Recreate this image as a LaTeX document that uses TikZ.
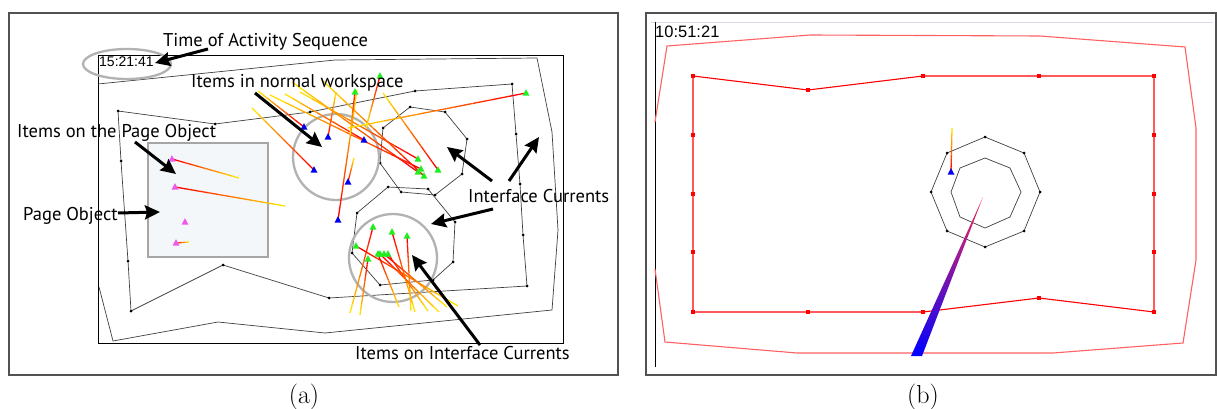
\documentclass[tikz,border=0pt]{standalone}
\usepackage{fontspec}
\newfontfamily\lblfont{PT Sans}
\newfontfamily\clockfont{Liberation Sans}
\usetikzlibrary{arrows.meta,calc}
\definecolor{yel}{rgb}{1,0.88,0}
\definecolor{itgreen}{rgb}{0.13,0.93,0.13}
\definecolor{itblue}{rgb}{0,0,0.93}
\definecolor{itpink}{rgb}{0.93,0.35,0.93}
\definecolor{pagefill}{rgb}{0.955,0.97,0.975}
\definecolor{lightred}{rgb}{1,0.38,0.38}
\tikzset{
  frame/.style={draw=black!68, line width=1.3pt},
  screen/.style={draw=black, line width=0.8pt},
  polyline/.style={draw=black!75, line width=0.7pt},
  hilite/.style={draw=black!30, line width=2.3pt},
  annot/.style={line width=3pt, -{Stealth[length=15pt,width=14pt,inset=2pt]}},
  lbl/.style={font=\lblfont\fontsize{18.5}{20}\selectfont, inner sep=0pt, anchor=base west},
  clock/.style={font=\clockfont\fontsize{14}{16}\selectfont, inner sep=0pt, anchor=base west},
  captext/.style={font=\fontsize{26}{28}\selectfont, inner sep=0pt, anchor=base},
  redpoly/.style={draw=red, line width=1.1pt},
  redouter/.style={draw=lightred, line width=1.1pt},
}
\newcommand\reddot[1]{\fill[red] ($(#1)+(-1.8,-1.8)$) rectangle ($(#1)+(1.8,1.8)$);}
\newcommand\itemtri[2]{\fill[#1] ($(#2)+(-3.5,2.7)$) -- ++(7,0) -- ++(-3.5,-6.5) -- cycle;}
\newcommand\itemtrail[2]{%
  \foreach \k in {0,...,9}{%
    \pgfmathsetmacro\trA{\k/10}%
    \pgfmathsetmacro\trB{(\k+1)/10}%
    \pgfmathtruncatemacro\trP{100*\k/9}%
    \draw[line width=1.3pt, color=yel!\trP!red] ($(#2)!\trA!(#1)$) -- ($(#2)!\trB!(#1)$);
  }}
\begin{document}
\begin{tikzpicture}[x=1pt,y=-1pt]
\useasboundingbox (0,0) rectangle (1217,409);
\fill[white] (0,0) rectangle (1217,409);

%% ================= panel (a) =================
\draw[frame] (9,13) rectangle (618,375);
\draw[screen] (98,55) rectangle (563,343);
% outer workspace polygon
\draw[polyline] (98,84) -- (335,60) -- (537,58) -- (552,132) -- (558,230) -- (552,310)
  -- (325,333) -- (218,322) -- (113,341) -- (99,287);
% inner workspace polygon
\draw[polyline] (118,111) -- (215,124) -- (310,112) -- (415,91) -- (512,84) -- (516,134)
  -- (520,184) -- (523,235) -- (527,286) -- (329,298) -- (223,265) -- (131,311)
  -- (128,261) -- (121,161) -- cycle;
\foreach \p in {(118,111),(215,124),(310,112),(415,91),(512,84),(516,134),(520,184),
  (523,235),(527,286),(329,298),(223,265),(131,311),(128,261),(121,161)}
  {\fill[black] \p circle[radius=1.5pt];}
% interface current octagons
\draw[polyline] (383,128) -- (410,107) -- (445,112) -- (467,139) -- (462,174) -- (435,195)
  -- (401,192) -- (380,163) -- cycle;
\foreach \p in {(383,128),(410,107),(445,112),(467,139),(462,174),(435,195),(401,192),(380,163)}
  {\fill[black] \p circle[radius=1.5pt];}
\draw[polyline] (357,213) -- (388,187) -- (428,189) -- (455,222) -- (453,262) -- (433,280)
  -- (380,285) -- (352,253) -- cycle;
\foreach \p in {(357,213),(388,187),(428,189),(455,222),(453,262),(433,280),(380,285),(352,253)}
  {\fill[black] \p circle[radius=1.5pt];}
% page object
\draw[fill=pagefill, draw=black!35, line width=1.5pt] (148,143) rectangle (268,257);
% highlight circles
\draw[hilite] (127,64) ellipse[x radius=44, y radius=15];
\draw[hilite] (336,157) circle[radius=43];
\draw[hilite] (393,258) circle[radius=44];

% item trails: workspace (blue)
\itemtrail{252,108}{314,170}
\itemtrail{258,91}{304,127}
\itemtrail{336,92}{328,137}
\itemtrail{285,94}{364,140}
\itemtrail{354,158}{348,182}
\itemtrail{357,90}{338,220}
% item trails: upper interface current (green)
\itemtrail{300,92}{418,159}
\itemtrail{270,95}{421,169}
\itemtrail{292,82}{418,172}
\itemtrail{322,80}{424,176}
\itemtrail{383,93}{438,170}
\itemtrail{348,128}{526,93}
\itemtrail{366,128}{380,76}
\itemtrail{350,135}{355,92}
% item trails: lower interface current (green)
\itemtrail{350,313}{373,227}
\itemtrail{360,315}{368,259}
\itemtrail{415,312}{392,232}
\itemtrail{411,311}{407,236}
\itemtrail{458,306}{356,246}
\itemtrail{439,312}{380,254}
\itemtrail{428,311}{388,254}
\itemtrail{399,307}{378,254}
\itemtrail{447,307}{384,254}
% item trails: page object (pink)
\itemtrail{239,178}{172,159}
\itemtrail{285,206}{175,187}
\itemtrail{189,242}{176,243}

% item markers
\foreach \p in {{314,170},{304,127},{328,137},{364,140},{348,182},{338,220}}
  {\itemtri{itblue}{\p}}
\foreach \p in {{418,159},{421,169},{418,172},{424,176},{438,170},{526,93},{380,76},{355,92},
  {373,227},{368,259},{392,232},{407,236},{356,246},{380,254},{388,254},{378,254},{384,254}}
  {\itemtri{itgreen}{\p}}
\foreach \p in {{172,159},{175,187},{185,222},{176,243}}
  {\itemtri{itpink}{\p}}

% timestamp
\node[clock] (ts1) at (99,67) {15:21:41};

% annotations
\node[lbl] (tas) at (163,47) {Time of Activity Sequence};
\node[lbl] (inw) at (191,88) {Items in normal workspace};
\node[lbl] (ipo) at (17,138) {Items on the Page Object};
\node[lbl] (po)  at (23,220) {Page Object};
\node[lbl] (ic)  at (468,202) {Interface Currents};
\node[lbl] (iic) at (355,359) {Items on Interface Currents};

\coordinate (tasA) at (208,49);  \coordinate (tasB) at (155,63);
\coordinate (inwA) at (255,93);  \coordinate (inwB) at (322,147);
\coordinate (ipoA) at (135,142); \coordinate (ipoB) at (176,174);
\coordinate (poA)  at (118,213); \coordinate (poB)  at (160,212);
\coordinate (icA1) at (492,181); \coordinate (icB1) at (447,147);
\coordinate (icA2) at (509,181); \coordinate (icB2) at (539,137);
\coordinate (icA3) at (493,209); \coordinate (icB3) at (431,224);
\coordinate (iicA) at (480,345); \coordinate (iicB) at (412,255);
\draw[annot] (tasA) -- (tasB);
\draw[annot] (inwA) -- (inwB);
\draw[annot] (ipoA) -- (ipoB);
\draw[annot] (poA) -- (poB);
\draw[annot] (icA1) -- (icB1);
\draw[annot] (icA2) -- (icB2);
\draw[annot] (icA3) -- (icB3);
\draw[annot] (iicA) -- (iicB);

\node[captext] (capa) at (304,403) {(a)};

%% ================= panel (b) =================
\draw[frame] (646,13) rectangle (1216,375);
\draw[draw={rgb,255:red,218;green,218;blue,232}, line width=0.8pt] (651,22) -- (1213,22);
\draw[black, line width=1pt] (655,22) -- (655,367);
\node[clock, font=\clockfont\fontsize{16.5}{18}\selectfont] (ts2) at (655,38) {10:51:21};
% outer boundary
\draw[redouter] (655,122) -- (667,46) -- (810,35) -- (1040,36) -- (1185,47) -- (1196,128)
  -- (1196,260) -- (1183,343) -- (1053,353) -- (797,353) -- (665,342) -- (655,269);
% inner boundary
\draw[redpoly] (693,76) -- (808,90) -- (923,76) -- (1039,76) -- (1154,76) -- (1154,135)
  -- (1154,194) -- (1154,252) -- (1154,312) -- (1039,298) -- (923,312) -- (808,312)
  -- (693,312) -- (693,252) -- (693,194) -- (693,135) -- cycle;
\foreach \p in {{693,76},{808,90},{923,76},{1039,76},{1154,76},{1154,135},{1154,194},
  {1154,252},{1154,312},{1039,298},{923,312},{808,312},{693,312},{693,252},{693,194},{693,135}}
  {\reddot{\p}}
% octagons
\draw[polyline] (985,137) -- (1024,153) -- (1040,192) -- (1024,231) -- (985,247)
  -- (947,231) -- (931,192) -- (947,153) -- cycle;
\foreach \p in {(985,137),(1024,153),(1040,192),(1024,231),(985,247),(947,231),(931,192),(947,153)}
  {\fill[black] \p circle[radius=1.5pt];}
\draw[polyline] (985,158) -- (1010,168) -- (1021,192) -- (1010,217) -- (985,228)
  -- (960,217) -- (951,192) -- (960,168) -- cycle;
% wedge
\shade[top color={rgb,255:red,245;green,40;blue,90},
       middle color={rgb,255:red,125;green,0;blue,165},
       bottom color={rgb,255:red,0;green,0;blue,255}]
  (983,197) -- (922,356) -- (911,356) -- cycle;
% item
\itemtrail{952,128}{951,172}
\itemtri{itblue}{951,172}

\node[captext] (capb) at (923,403) {(b)};
\end{tikzpicture}
\end{document}
